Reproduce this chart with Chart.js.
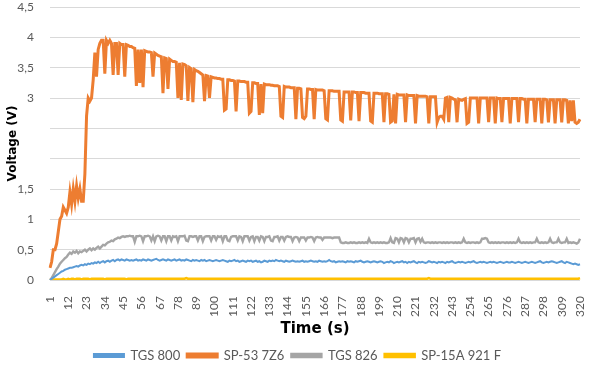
<!DOCTYPE html>
<html>
<head>
<meta charset="utf-8">
<script src="https://cdn.jsdelivr.net/npm/chart.js@4/dist/chart.umd.min.js"></script>
<style>
  html, body { margin: 0; padding: 0; background: #fff; }
  #wrap { width: 591px; height: 366px; }
</style>
</head>
<body>
<div id="wrap"><canvas id="chart" width="591" height="366"></canvas></div>
<script>
// time axis (s), one sample per second
const timeLabels = Array.from({ length: 320 }, (_, i) => String(i + 1));
const tickEvery = 11; // Excel shows 1, 12, 23 ... 320
const hiddenYTicks = [2, 2.5]; // these two labels are blank in the source

const seriesNames = ["TGS 800", "SP-53 7Z6", "TGS 826", "SP-15A 921 F"];
const seriesColors = ["#5b9bd5", "#ed7d31", "#a5a5a5", "#ffc000"];

const tgs800 = [
  0, 0.02, 0.04, 0.06, 0.08, 0.1, 0.12, 0.14, 0.15, 0.17,
  0.18, 0.19, 0.2, 0.2, 0.21, 0.22, 0.23, 0.22, 0.24, 0.25,
  0.24, 0.26, 0.25, 0.27, 0.26, 0.28, 0.27, 0.29, 0.28, 0.3,
  0.28, 0.3, 0.31, 0.29, 0.31, 0.32, 0.3, 0.32, 0.33, 0.31,
  0.33, 0.34, 0.32, 0.34, 0.33, 0.32, 0.34, 0.33, 0.32, 0.33,
  0.32, 0.33, 0.34, 0.32, 0.33, 0.32, 0.34, 0.33, 0.32, 0.34,
  0.33, 0.32, 0.33, 0.34, 0.35, 0.33, 0.32, 0.33, 0.34, 0.33,
  0.32, 0.34, 0.33, 0.32, 0.33, 0.34, 0.32, 0.33, 0.34, 0.32,
  0.33, 0.32, 0.34, 0.33, 0.32, 0.31, 0.33, 0.32, 0.33, 0.32,
  0.31, 0.33, 0.32, 0.33, 0.31, 0.32, 0.33, 0.32, 0.31, 0.32,
  0.33, 0.32, 0.31, 0.32, 0.33, 0.32, 0.31, 0.3, 0.32, 0.31,
  0.32, 0.33, 0.31, 0.32, 0.3, 0.31, 0.32, 0.31, 0.3, 0.32,
  0.31, 0.32, 0.3, 0.31, 0.32, 0.3, 0.31, 0.29, 0.3, 0.32,
  0.31, 0.3, 0.32, 0.31, 0.32, 0.31, 0.33, 0.32, 0.31, 0.32,
  0.31, 0.3, 0.32, 0.31, 0.3, 0.31, 0.32, 0.31, 0.3, 0.31,
  0.3, 0.31, 0.32, 0.3, 0.31, 0.3, 0.31, 0.32, 0.31, 0.3,
  0.31, 0.3, 0.32, 0.31, 0.3, 0.31, 0.3, 0.31, 0.33, 0.31,
  0.3, 0.31, 0.29, 0.3, 0.31, 0.3, 0.31, 0.3, 0.29, 0.31,
  0.3, 0.31, 0.3, 0.29, 0.31, 0.3, 0.31, 0.32, 0.3, 0.29,
  0.3, 0.31, 0.3, 0.29, 0.3, 0.31, 0.3, 0.29, 0.3, 0.31,
  0.3, 0.28, 0.29, 0.3, 0.29, 0.31, 0.3, 0.28, 0.29, 0.3,
  0.29, 0.3, 0.31, 0.29, 0.3, 0.28, 0.3, 0.29, 0.3, 0.31,
  0.29, 0.28, 0.3, 0.29, 0.3, 0.29, 0.28, 0.29, 0.31, 0.3,
  0.29, 0.3, 0.29, 0.28, 0.3, 0.29, 0.3, 0.29, 0.28, 0.3,
  0.29, 0.3, 0.31, 0.29, 0.28, 0.29, 0.3, 0.29, 0.3, 0.29,
  0.28, 0.29, 0.3, 0.29, 0.3, 0.31, 0.29, 0.28, 0.29, 0.3,
  0.29, 0.3, 0.29, 0.28, 0.29, 0.3, 0.29, 0.3, 0.29, 0.28,
  0.29, 0.3, 0.29, 0.28, 0.29, 0.3, 0.29, 0.29, 0.3, 0.29,
  0.28, 0.29, 0.3, 0.29, 0.28, 0.29, 0.3, 0.29, 0.28, 0.29,
  0.3, 0.29, 0.28, 0.29, 0.3, 0.31, 0.29, 0.28, 0.29, 0.3,
  0.29, 0.3, 0.31, 0.3, 0.29, 0.28, 0.29, 0.3, 0.31, 0.29,
  0.28, 0.3, 0.29, 0.28, 0.27, 0.26, 0.27, 0.26, 0.25, 0.26
];

const sp53 = [
  0.2, 0.3, 0.5, 0.5, 0.6, 0.8, 1.0, 1.05, 1.2, 1.15,
  1.1, 1.2, 1.45, 1.25, 1.5, 1.3, 1.55, 1.35, 1.5, 1.3,
  1.3, 1.75, 2.7, 3.0, 2.95, 3.0, 3.3, 3.75, 3.35, 3.8,
  3.9, 3.95, 3.95, 3.4, 3.95, 3.9, 3.95, 3.9, 3.38, 3.9,
  3.9, 3.38, 3.9, 3.88, 3.88, 3.35, 3.88, 3.87, 3.85, 3.85,
  3.83, 3.82, 3.2, 3.8, 3.25, 3.8, 3.18, 3.78, 3.77, 3.76,
  3.76, 3.75, 3.35, 3.74, 3.72, 3.7, 3.69, 3.68, 3.08, 3.66,
  3.65, 3.15, 3.64, 3.62, 3.6, 3.6, 3.59, 3.0, 3.58, 2.97,
  3.56, 3.55, 3.53, 2.95, 3.5, 3.48, 2.93, 3.47, 3.45, 3.44,
  3.42, 3.4, 3.38, 2.95, 3.37, 3.36, 3.0, 3.35, 3.34, 3.33,
  3.33, 3.32, 3.32, 3.31, 3.31, 2.8, 2.82, 3.3, 3.3, 3.29,
  3.29, 3.28, 2.78, 3.28, 3.28, 3.27, 3.27, 3.27, 3.26, 3.26,
  2.75, 2.78, 3.25, 3.25, 3.24, 3.24, 2.72, 3.23, 2.75, 3.23,
  3.22, 3.22, 3.22, 3.21, 3.21, 3.2, 3.2, 3.2, 3.19, 2.7,
  2.68, 3.19, 3.18, 3.18, 3.18, 3.17, 3.17, 3.17, 2.65, 3.16,
  3.16, 3.15, 2.68, 2.66, 2.7, 3.15, 3.15, 3.14, 3.14, 2.65,
  3.14, 3.13, 3.13, 3.13, 3.13, 3.12, 2.66, 2.64, 3.12, 3.12,
  3.12, 3.11, 3.11, 3.11, 3.11, 2.64, 2.62, 3.1, 3.1, 3.1,
  3.1, 2.63, 3.1, 3.1, 3.09, 3.09, 2.62, 3.09, 3.09, 3.09,
  3.08, 3.08, 3.08, 2.62, 2.6, 3.08, 3.08, 3.08, 3.07, 3.07,
  3.07, 2.6, 3.07, 3.07, 3.06, 2.6, 2.62, 3.06, 2.58, 3.06,
  3.05, 3.05, 3.05, 3.05, 2.6, 3.05, 3.04, 3.04, 3.04, 3.04,
  2.58, 3.04, 3.03, 3.03, 3.03, 3.03, 3.03, 3.02, 2.58, 3.02,
  3.02, 3.02, 3.02, 2.6, 2.68, 2.7, 2.7, 2.65, 3.0, 3.01,
  2.6, 3.01, 3.0, 2.98, 2.97, 2.6, 2.98, 2.97, 2.96, 2.98,
  2.99, 2.58, 2.6, 3.0, 3.0, 3.0, 3.0, 3.0, 2.58, 3.0,
  3.0, 3.0, 3.0, 3.0, 2.6, 3.0, 3.0, 3.0, 2.58, 3.0,
  2.99, 2.99, 2.6, 2.99, 2.99, 2.99, 2.99, 2.58, 2.99, 2.99,
  2.99, 2.99, 2.6, 2.99, 2.99, 2.98, 2.98, 2.58, 2.98, 2.98,
  2.98, 2.98, 2.6, 2.98, 2.98, 2.98, 2.58, 2.98, 2.98, 2.97,
  2.6, 2.97, 2.97, 2.97, 2.58, 2.97, 2.97, 2.97, 2.6, 2.97,
  2.97, 2.96, 2.58, 2.96, 2.62, 2.96, 2.6, 2.58, 2.6, 2.65
];

const tgs826 = [
  0, 0.03, 0.08, 0.13, 0.18, 0.22, 0.27, 0.3, 0.33, 0.36,
  0.38, 0.42, 0.45, 0.43, 0.47, 0.45, 0.48, 0.44, 0.47, 0.46,
  0.48, 0.5, 0.47, 0.5, 0.52, 0.49, 0.52, 0.5, 0.53, 0.55,
  0.52, 0.55, 0.58, 0.57, 0.6, 0.62, 0.63, 0.65, 0.64, 0.67,
  0.68, 0.7, 0.69, 0.71, 0.72, 0.71, 0.72, 0.72, 0.73, 0.72,
  0.72, 0.63, 0.72, 0.72, 0.73, 0.72, 0.64, 0.72, 0.72, 0.73,
  0.72, 0.65, 0.72, 0.64, 0.72, 0.73, 0.72, 0.65, 0.72, 0.72,
  0.64, 0.72, 0.72, 0.65, 0.72, 0.71, 0.72, 0.64, 0.72, 0.72,
  0.72, 0.73, 0.65, 0.64, 0.72, 0.72, 0.71, 0.72, 0.72, 0.65,
  0.72, 0.72, 0.64, 0.71, 0.72, 0.72, 0.72, 0.65, 0.72, 0.72,
  0.66, 0.72, 0.71, 0.72, 0.64, 0.72, 0.72, 0.65, 0.64, 0.71,
  0.72, 0.72, 0.72, 0.65, 0.72, 0.71, 0.64, 0.72, 0.72, 0.72,
  0.65, 0.71, 0.72, 0.64, 0.71, 0.71, 0.65, 0.72, 0.71, 0.64,
  0.71, 0.71, 0.72, 0.65, 0.64, 0.71, 0.71, 0.72, 0.65, 0.71,
  0.71, 0.65, 0.71, 0.72, 0.71, 0.71, 0.64, 0.7, 0.71, 0.7,
  0.64, 0.7, 0.7, 0.7, 0.65, 0.7, 0.7, 0.71, 0.7, 0.64,
  0.7, 0.71, 0.7, 0.7, 0.66, 0.7, 0.7, 0.7, 0.7, 0.7,
  0.69, 0.7, 0.7, 0.7, 0.7, 0.62, 0.61, 0.61, 0.62, 0.61,
  0.61, 0.62, 0.61, 0.62, 0.61, 0.61, 0.62, 0.61, 0.62, 0.61,
  0.62, 0.61, 0.68, 0.62, 0.61, 0.62, 0.61, 0.62, 0.61, 0.62,
  0.61, 0.62, 0.61, 0.61, 0.62, 0.69, 0.62, 0.61, 0.69, 0.68,
  0.62, 0.69, 0.68, 0.62, 0.69, 0.68, 0.62, 0.68, 0.68, 0.69,
  0.62, 0.68, 0.69, 0.63, 0.68, 0.62, 0.61, 0.62, 0.62, 0.61,
  0.62, 0.61, 0.62, 0.61, 0.62, 0.62, 0.61, 0.62, 0.61, 0.62,
  0.61, 0.62, 0.62, 0.61, 0.62, 0.61, 0.62, 0.61, 0.62, 0.68,
  0.62, 0.61, 0.62, 0.61, 0.62, 0.62, 0.61, 0.62, 0.61, 0.62,
  0.68, 0.68, 0.69, 0.68, 0.62, 0.61, 0.62, 0.61, 0.62, 0.61,
  0.62, 0.61, 0.62, 0.62, 0.61, 0.62, 0.61, 0.62, 0.61, 0.62,
  0.61, 0.62, 0.68, 0.62, 0.61, 0.62, 0.61, 0.62, 0.61, 0.62,
  0.61, 0.62, 0.62, 0.68, 0.62, 0.61, 0.62, 0.61, 0.62, 0.61,
  0.62, 0.68, 0.62, 0.61, 0.62, 0.62, 0.68, 0.62, 0.61, 0.62,
  0.62, 0.68, 0.61, 0.62, 0.61, 0.62, 0.61, 0.6, 0.62, 0.68
];

const sp15a = [
  0, 0.01, 0.01, 0.01, 0.01, 0.01, 0.01, 0.01, 0.02, 0.01,
  0.01, 0.02, 0.01, 0.02, 0.02, 0.01, 0.02, 0.02, 0.02, 0.01,
  0.02, 0.02, 0.02, 0.02, 0.01, 0.02, 0.02, 0.02, 0.02, 0.02,
  0.02, 0.02, 0.02, 0.01, 0.02, 0.02, 0.02, 0.02, 0.02, 0.02,
  0.02, 0.02, 0.02, 0.02, 0.02, 0.02, 0.01, 0.02, 0.02, 0.02,
  0.02, 0.02, 0.02, 0.02, 0.02, 0.02, 0.02, 0.02, 0.02, 0.02,
  0.02, 0.02, 0.02, 0.02, 0.02, 0.02, 0.02, 0.02, 0.02, 0.02,
  0.02, 0.02, 0.02, 0.02, 0.02, 0.02, 0.02, 0.02, 0.02, 0.02,
  0.02, 0.02, 0.03, 0.02, 0.02, 0.02, 0.02, 0.02, 0.02, 0.02,
  0.02, 0.02, 0.02, 0.02, 0.02, 0.02, 0.02, 0.02, 0.02, 0.02,
  0.02, 0.02, 0.02, 0.02, 0.02, 0.02, 0.02, 0.02, 0.02, 0.02,
  0.02, 0.02, 0.02, 0.02, 0.02, 0.02, 0.02, 0.02, 0.02, 0.02,
  0.02, 0.02, 0.02, 0.02, 0.02, 0.02, 0.02, 0.02, 0.02, 0.02,
  0.02, 0.02, 0.02, 0.02, 0.02, 0.02, 0.02, 0.02, 0.02, 0.02,
  0.02, 0.02, 0.02, 0.02, 0.02, 0.02, 0.02, 0.02, 0.02, 0.02,
  0.02, 0.02, 0.02, 0.02, 0.02, 0.02, 0.02, 0.02, 0.02, 0.02,
  0.02, 0.02, 0.02, 0.02, 0.02, 0.02, 0.02, 0.02, 0.02, 0.02,
  0.02, 0.02, 0.02, 0.02, 0.02, 0.02, 0.02, 0.02, 0.02, 0.02,
  0.02, 0.02, 0.02, 0.02, 0.02, 0.02, 0.02, 0.02, 0.02, 0.02,
  0.02, 0.02, 0.02, 0.02, 0.02, 0.02, 0.02, 0.02, 0.02, 0.02,
  0.02, 0.02, 0.02, 0.02, 0.02, 0.02, 0.02, 0.02, 0.02, 0.02,
  0.02, 0.02, 0.02, 0.02, 0.02, 0.02, 0.02, 0.02, 0.02, 0.02,
  0.02, 0.02, 0.02, 0.02, 0.02, 0.02, 0.02, 0.02, 0.03, 0.02,
  0.02, 0.02, 0.02, 0.02, 0.02, 0.02, 0.02, 0.02, 0.02, 0.02,
  0.02, 0.02, 0.02, 0.02, 0.02, 0.02, 0.02, 0.02, 0.02, 0.02,
  0.02, 0.02, 0.02, 0.02, 0.02, 0.02, 0.02, 0.02, 0.02, 0.02,
  0.02, 0.02, 0.02, 0.02, 0.02, 0.02, 0.02, 0.02, 0.02, 0.02,
  0.02, 0.02, 0.02, 0.02, 0.02, 0.02, 0.02, 0.02, 0.02, 0.02,
  0.02, 0.02, 0.02, 0.02, 0.02, 0.02, 0.02, 0.02, 0.02, 0.02,
  0.02, 0.02, 0.02, 0.02, 0.02, 0.02, 0.02, 0.02, 0.02, 0.02,
  0.02, 0.02, 0.02, 0.02, 0.02, 0.02, 0.02, 0.02, 0.02, 0.02,
  0.02, 0.02, 0.02, 0.02, 0.02, 0.02, 0.02, 0.02, 0.02, 0.03
];

const seriesData = [tgs800, sp53, tgs826, sp15a];
const lineWidths = [2, 3, 2.4, 2.5];

const tickFont = { family: "Lato, 'Liberation Sans', sans-serif", size: 12 };
const legendFont = { family: "Lato, 'Liberation Sans', sans-serif", size: 13 };
const titleFont = { family: "'DejaVu Sans', sans-serif", size: 12, weight: "bold" };

new Chart(document.getElementById("chart"), {
  type: "line",
  data: {
    labels: timeLabels,
    datasets: seriesNames.map((name, k) => ({
      label: name,
      data: seriesData[k],
      borderColor: seriesColors[k],
      backgroundColor: seriesColors[k],
      borderWidth: lineWidths[k],
      pointRadius: 0,
      tension: 0,
      fill: false
    }))
  },
  options: {
    responsive: false,
    animation: false,
    layout: { padding: { left: 6, right: 2, top: 0, bottom: -6 } },
    plugins: {
      tooltip: { enabled: false },
      legend: {
        position: "bottom",
        labels: {
          color: "#595959",
          font: legendFont,
          boxWidth: 30,
          boxHeight: 3,
          padding: 7
        }
      }
    },
    scales: {
      x: {
        // fixed band under the plot; right padding keeps "320" near the edge
        afterFit: s => { s.height = 62; s.paddingRight = 11; s.paddingLeft = 0; },
        grid: { display: false },
        border: { display: false },
        ticks: {
          color: "#595959",
          font: tickFont,
          autoSkip: false,
          minRotation: 90,
          maxRotation: 90,
          padding: 8,
          callback: (v, i) => (i % tickEvery === 0 ? timeLabels[i] : "")
        },
        title: {
          display: true,
          text: "Time (s)",
          color: "#000",
          font: { ...titleFont, size: 15 },
          padding: { top: 0, bottom: 4 }
        }
      },
      y: {
        min: 0,
        max: 4.5,
        afterFit: s => { s.width = 44; s.paddingTop = 7; s.paddingBottom = 0; },
        grid: { color: "#d9d9d9", drawTicks: false },
        border: { display: false },
        ticks: {
          stepSize: 0.5,
          color: "#595959",
          font: tickFont,
          padding: 16,
          callback: v => (hiddenYTicks.includes(v) ? "" : String(v).replace(".", ","))
        },
        title: {
          display: true,
          text: "Voltage (V)",
          color: "#000",
          font: titleFont,
          padding: { top: 0, bottom: 0 }
        }
      }
    }
  }
});
</script>
</body>
</html>
